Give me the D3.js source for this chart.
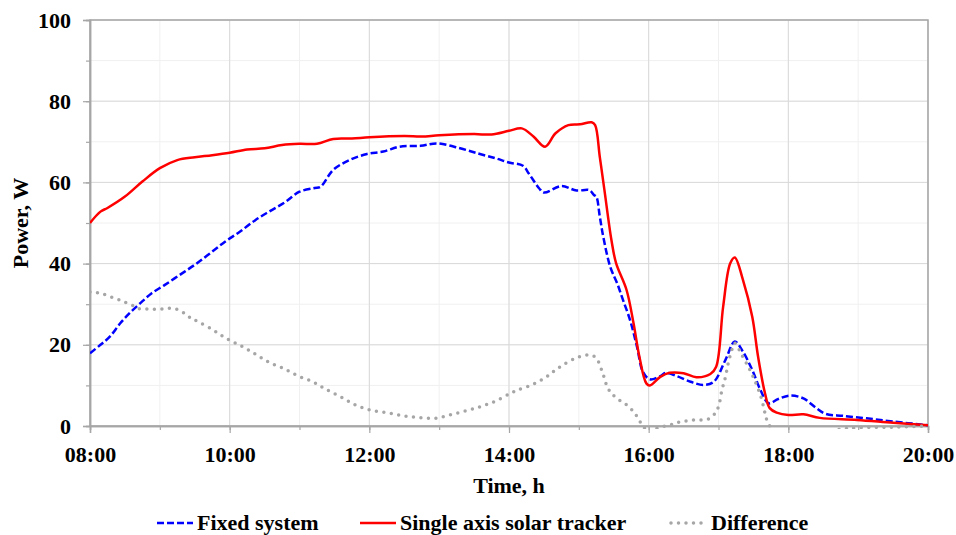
<!DOCTYPE html>
<html>
<head>
<meta charset="utf-8">
<script src="https://cdn.jsdelivr.net/npm/d3@7"></script>
<style>
  html, body { margin: 0; padding: 0; background: #fff; }
  svg text { font-family: "Times New Roman", "Liberation Serif", serif; font-weight: bold; fill: #000; }
</style>
</head>
<body>
<svg id="chart" width="956" height="535"></svg>
<script>
// tick labels
const xTickLabels = ['08:00', '10:00', '12:00', '14:00', '16:00', '18:00', '20:00'];
const yTickValues = [0, 20, 40, 60, 80, 100];

// Fixed system
const fixedTimes = ['08:00', '08:09', '08:17', '08:26', '08:34', '08:43', '08:53', '09:04', '09:17', '09:30',
  '09:43', '09:56', '10:09', '10:22', '10:35', '10:48', '11:00', '11:13', '11:18', '11:29', '11:43', '11:58',
  '12:12', '12:26', '12:44', '12:58', '13:18', '13:35', '13:49', '14:00', '14:12', '14:17', '14:26', '14:30',
  '14:45', '14:58', '15:09', '15:13', '15:15', '15:18', '15:21', '15:27', '15:33', '15:38', '15:44', '15:50',
  '15:55', '16:01', '16:10', '16:15', '16:24', '16:36', '16:47', '16:56', '17:06', '17:14', '17:21', '17:29',
  '17:36', '17:43', '17:51', '18:01', '18:13', '18:24', '18:32', '18:47', '19:07', '19:30', '20:00'];
const fixedPower = [17.9, 20.0, 22.0, 25.3, 27.8, 30.2, 32.7, 34.7, 37.2, 39.7,
  42.5, 45.4, 47.9, 50.7, 53.0, 55.2, 57.7, 58.6, 58.9, 63.1, 65.5, 67.0,
  67.6, 68.8, 69.0, 69.6, 68.4, 67.0, 65.9, 64.9, 64.1, 62.2, 58.5, 57.5,
  59.1, 58.0, 58.1, 56.9, 56.5, 51.6, 46.6, 39.2, 35.1, 31.0, 26.1, 19.5,
  13.4, 11.5, 12.3, 13.1, 12.3, 10.9, 10.1, 10.9, 16.3, 20.8, 18.3, 13.8,
  8.9, 5.6, 6.6, 7.5, 6.8, 4.4, 3.0, 2.5, 1.9, 1.1, 0.2];

// Single axis solar tracker
const trackerTimes = ['08:00', '08:09', '08:15', '08:30', '08:45', '09:00', '09:15', '09:30', '09:45', '10:00',
  '10:15', '10:30', '10:45', '11:00', '11:15', '11:29', '11:45', '12:00', '12:30', '12:45', '13:00', '13:30',
  '13:45', '14:00', '14:11', '14:21', '14:31', '14:40', '14:51', '15:01', '15:11', '15:14', '15:18', '15:22',
  '15:28', '15:32', '15:41', '15:47', '15:52', '15:58', '16:01', '16:10', '16:18', '16:30', '16:41', '16:53',
  '16:58', '17:04', '17:10', '17:14', '17:21', '17:29', '17:34', '17:40', '17:44', '17:50', '18:00', '18:13',
  '18:27', '18:59', '19:30', '20:00'];
const trackerPower = [50.0, 52.8, 53.7, 56.5, 60.2, 63.5, 65.5, 66.2, 66.7, 67.3,
  68.1, 68.4, 69.2, 69.5, 69.5, 70.7, 70.8, 71.1, 71.4, 71.3, 71.6, 71.9,
  71.8, 72.7, 73.3, 71.3, 68.8, 72.1, 74.1, 74.3, 74.8, 74.1, 66.3, 58.1,
  45.8, 40.1, 33.5, 25.3, 17.1, 10.5, 10.0, 12.1, 13.1, 13.0, 12.0, 12.8,
  14.6, 29.4, 40.0, 41.5, 36.0, 26.9, 17.1, 8.0, 4.4, 3.3, 2.7, 2.9,
  2.0, 1.5, 0.8, 0.2];

// Difference
const diffTimes = ['08:00', '08:09', '08:15', '08:23', '08:29', '08:36', '08:41', '08:49', '09:02', '09:09',
  '09:16', '09:22', '09:27', '09:33', '09:46', '09:57', '10:10', '10:22', '10:33', '10:46', '10:59', '11:12',
  '11:23', '11:36', '11:48', '12:01', '12:15', '12:29', '12:42', '12:56', '13:09', '13:24', '13:37', '13:49',
  '14:01', '14:08', '14:21', '14:32', '14:38', '14:44', '14:57', '15:10', '15:15', '15:21', '15:25', '15:31',
  '15:41', '15:47', '15:51', '15:55', '16:01', '16:05', '16:11', '16:18', '16:24', '16:31', '16:39', '16:51',
  '16:57', '17:00', '17:03', '17:06', '17:08', '17:11', '17:14', '17:20', '17:27', '17:31', '17:36', '17:39',
  '17:41', '17:44', '17:50', '18:00', '18:13', '18:27', '18:45', '19:00', '19:30', '20:00'];
const diffPower = [33.0, 32.7, 32.1, 31.3, 30.6, 29.8, 29.0, 28.8, 28.8, 29.0,
  28.6, 27.6, 26.5, 25.7, 23.6, 21.6, 19.7, 17.7, 15.8, 14.2, 12.3, 10.8,
  9.0, 7.1, 5.2, 3.9, 3.3, 2.5, 2.1, 1.9, 2.7, 3.8, 4.9, 6.2,
  8.0, 8.9, 10.3, 12.1, 13.4, 14.6, 16.7, 17.5, 16.7, 12.6, 9.3, 7.2,
  5.2, 3.5, 1.9, 0.0, -1.5, -0.8, -0.2, 0.2, 0.8, 1.2, 1.5, 1.7,
  3.1, 4.8, 8.9, 12.1, 15.0, 18.3, 20.4, 17.5, 13.8, 11.3, 7.6, 4.4,
  1.9, 0.0, -3.5, -4.8, -3.9, -2.0, -0.8, -0.4, -0.3, 0.0];

const parse = d3.timeParse('%H:%M');
const svg = d3.select('#chart');
const plotLeft = 90, plotRight = 928, plotTop = 20, plotBottom = 426;

const x = d3.scaleTime()
  .domain([parse('08:00'), parse('20:00')])
  .range([plotLeft, plotRight]);
const y = d3.scaleLinear()
  .domain([0, 100])
  .range([plotBottom, plotTop]);

// grid, minor first
const minorHours = d3.timeHour.every(1).range(parse('08:00'), parse('20:01'));
const minorY = d3.range(0, 101, 10);
let grid = svg.append('g');
grid.selectAll('.vminor')
  .data(minorHours)
  .enter().append('line')
  .attr('x1', d => x(d)).attr('x2', d => x(d))
  .attr('y1', plotTop).attr('y2', plotBottom)
  .attr('stroke', '#f0f0f0');
grid.selectAll('.hminor')
  .data(minorY)
  .enter().append('line')
  .attr('x1', plotLeft).attr('x2', plotRight)
  .attr('y1', d => y(d)).attr('y2', d => y(d))
  .attr('stroke', '#f0f0f0');
grid.selectAll('.vmajor')
  .data(xTickLabels.map(parse))
  .enter().append('line')
  .attr('x1', d => x(d)).attr('x2', d => x(d))
  .attr('y1', plotTop).attr('y2', plotBottom)
  .attr('stroke', '#d9d9d9');
grid.selectAll('.hmajor')
  .data(yTickValues)
  .enter().append('line')
  .attr('x1', plotLeft).attr('x2', plotRight)
  .attr('y1', d => y(d)).attr('y2', d => y(d))
  .attr('stroke', '#d9d9d9');

// plot border
svg.append('rect')
  .attr('x', plotLeft).attr('y', plotTop)
  .attr('width', plotRight - plotLeft).attr('height', plotBottom - plotTop)
  .attr('fill', 'none')
  .attr('stroke', '#a6a6a6')
  .attr('stroke-width', 1.5);

// axes
function styleAxis(g) {
  g.selectAll('.domain').attr('stroke', '#a6a6a6').attr('stroke-width', 1.5);
  g.selectAll('.tick line').attr('stroke', '#a6a6a6').attr('stroke-width', 1.2);
  g.selectAll('.tick text')
    .attr('font-size', 22)
    .attr('font-family', '"Times New Roman", "Liberation Serif", serif')
    .attr('font-weight', 'bold')
    .attr('fill', '#000');
}

svg.append('g')
  .attr('transform', `translate(0,${plotBottom})`)
  .call(d3.axisBottom(x).tickValues(minorHours).tickSize(4).tickFormat(''))
  .call(styleAxis);
svg.append('g')
  .attr('transform', `translate(0,${plotBottom})`)
  .call(d3.axisBottom(x)
    .tickValues(xTickLabels.map(parse))
    .tickFormat(d3.timeFormat('%H:%M'))
    .tickSize(7).tickPadding(13))
  .call(styleAxis);

svg.append('g')
  .attr('transform', `translate(${plotLeft},0)`)
  .call(d3.axisLeft(y).tickValues(minorY).tickSize(4).tickFormat(''))
  .call(styleAxis);
svg.append('g')
  .attr('transform', `translate(${plotLeft},0)`)
  .call(d3.axisLeft(y).tickValues(yTickValues).tickSize(7).tickPadding(12))
  .call(styleAxis);

// axis titles
svg.append('text')
  .attr('x', (plotLeft + plotRight) / 2)
  .attr('y', 493)
  .attr('text-anchor', 'middle')
  .attr('font-size', 22)
  .text('Time, h');
svg.append('text')
  .attr('transform', `translate(28,${(plotTop + plotBottom) / 2}) rotate(-90)`)
  .attr('text-anchor', 'middle')
  .attr('font-size', 22)
  .text('Power, W');

// series
svg.append('clipPath')
  .attr('id', 'plot-clip')
  .append('rect')
  .attr('x', plotLeft).attr('y', plotTop - 3)
  .attr('width', plotRight - plotLeft).attr('height', plotBottom - plotTop + 6);

const line = d3.line()
  .x(d => x(d[0]))
  .y(d => y(d[1]))
  .curve(d3.curveCatmullRom.alpha(0.5));

const series = [
  { name: 'Fixed system', times: fixedTimes, values: fixedPower, color: '#0000ff', width: 2.5, dash: '7,3', cap: 'butt' },
  { name: 'Single axis solar tracker', times: trackerTimes, values: trackerPower, color: '#ff0000', width: 2.5, dash: null, cap: 'butt' },
  { name: 'Difference', times: diffTimes, values: diffPower, color: '#a6a6a6', width: 3.5, dash: '0,7.5', cap: 'round' }
];

let lines = svg.append('g').attr('clip-path', 'url(#plot-clip)');
series.forEach(s => {
  let pts = s.times.map((t, i) => [parse(t), s.values[i]]);
  lines.append('path')
    .attr('d', line(pts))
    .attr('fill', 'none')
    .attr('stroke', s.color)
    .attr('stroke-width', s.width)
    .attr('stroke-dasharray', s.dash)
    .attr('stroke-linecap', s.cap)
    .attr('stroke-linejoin', 'round');
});

// legend
const legendX = [157, 360, 671];
let legend = svg.append('g');
series.forEach((s, i) => {
  legend.append('line')
    .attr('x1', legendX[i]).attr('x2', legendX[i] + 36)
    .attr('y1', 523).attr('y2', 523)
    .attr('stroke', s.color)
    .attr('stroke-width', s.width)
    .attr('stroke-dasharray', s.dash)
    .attr('stroke-linecap', s.cap);
  legend.append('text')
    .attr('x', legendX[i] + 40)
    .attr('y', 530)
    .attr('font-size', 22)
    .text(s.name);
});
</script>
</body>
</html>
